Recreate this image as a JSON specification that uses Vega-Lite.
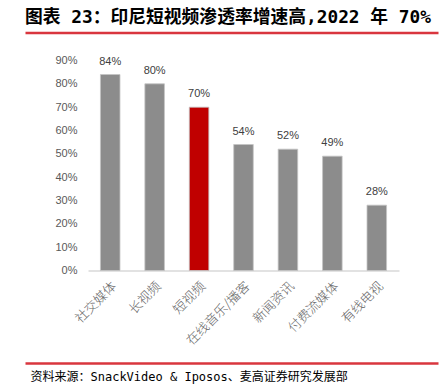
{
  "$schema": "https://vega.github.io/schema/vega-lite/v6.json",
  "width": 413,
  "height": 210,
  "autosize": {"type": "none"},
  "padding": {"left": 25, "top": 60.5, "right": 3, "bottom": 120.5},
  "background": "white",
  "config": {"view": {"stroke": null}, "font": "Liberation Sans"},
  "title": {
    "text": "图表 23：印尼短视频渗透率增速高,2022 年 70%",
    "anchor": "start",
    "frame": "group",
    "font": "DejaVu Sans Mono, Noto Sans CJK SC",
    "fontSize": 17.8,
    "fontWeight": "bold",
    "color": "#000000",
    "offset": 6
  },
  "data": {
    "values": [
      {"category": "社交媒体", "rate": 0.84, "highlight": false},
      {"category": "长视频", "rate": 0.80, "highlight": false},
      {"category": "短视频", "rate": 0.70, "highlight": true},
      {"category": "在线音乐/播客", "rate": 0.54, "highlight": false},
      {"category": "新闻资讯", "rate": 0.52, "highlight": false},
      {"category": "付费流媒体", "rate": 0.49, "highlight": false},
      {"category": "有线电视", "rate": 0.28, "highlight": false}
    ]
  },
  "resolve": {"scale": {"x": "independent"}, "axis": {"x": "independent"}},
  "layer": [
    {
      "encoding": {
        "x": {
          "field": "category",
          "type": "nominal",
          "sort": null,
          "scale": {"range": [63, 374], "paddingInner": 0.56, "paddingOuter": 0.28},
          "axis": {
            "title": null,
            "labelAngle": -45,
            "labelAlign": "right",
            "labelBaseline": "top",
            "labelFont": "Noto Sans CJK SC",
            "labelFontSize": 13,
            "labelFontWeight": 300,
            "labelColor": "#666666",
            "labelPadding": 9,
            "ticks": false,
            "domainColor": "#d9d9d9",
            "domainWidth": 1.5,
            "grid": false
          }
        },
        "y": {
          "field": "rate",
          "type": "quantitative",
          "scale": {"domain": [0, 0.9]},
          "axis": {
            "title": null,
            "values": [0, 0.1, 0.2, 0.3, 0.4, 0.5, 0.6, 0.7, 0.8, 0.9],
            "format": ".0%",
            "offset": -63,
            "domain": false,
            "ticks": false,
            "grid": false,
            "labelPadding": 11,
            "labelFontSize": 11,
            "labelColor": "#595959",
            "labelFont": "Liberation Sans"
          }
        }
      },
      "layer": [
        {
          "mark": {"type": "bar", "stroke": "#c4c4c4", "strokeWidth": 0.8},
          "encoding": {
            "color": {
              "field": "highlight",
              "type": "nominal",
              "scale": {"domain": [false, true], "range": ["#8c8c8c", "#c00000"]},
              "legend": null
            }
          }
        },
        {
          "mark": {"type": "text", "baseline": "bottom", "dy": -8, "fontSize": 11, "color": "#404040", "font": "Liberation Sans"},
          "encoding": {"text": {"field": "rate", "type": "quantitative", "format": ".0%"}}
        }
      ]
    },
    {
      "mark": {"type": "point", "opacity": 0},
      "encoding": {
        "x": {
          "datum": 0,
          "type": "quantitative",
          "scale": {"domain": [0, 1]},
          "axis": {
            "orient": "top",
            "offset": 28,
            "domainColor": "#d9363e",
            "domainWidth": 2.5,
            "labels": false,
            "ticks": false,
            "grid": false,
            "title": null
          }
        }
      }
    },
    {
      "mark": {"type": "point", "opacity": 0},
      "encoding": {
        "x": {
          "datum": 0,
          "type": "quantitative",
          "scale": {"domain": [0, 1]},
          "axis": {
            "orient": "bottom",
            "offset": 92.5,
            "domainColor": "#d9363e",
            "domainWidth": 2.5,
            "labels": false,
            "ticks": false,
            "grid": false,
            "title": "资料来源：SnackVideo & Iposos、麦高证券研究发展部",
            "titleFont": "DejaVu Sans Mono, Noto Sans CJK SC",
            "titleFontSize": 12,
            "titleFontWeight": "normal",
            "titleColor": "#000000",
            "titleAnchor": "start",
            "titleAlign": "left",
            "titleX": 5,
            "titleY": 13,
            "titleBaseline": "middle"
          }
        }
      }
    }
  ]
}
